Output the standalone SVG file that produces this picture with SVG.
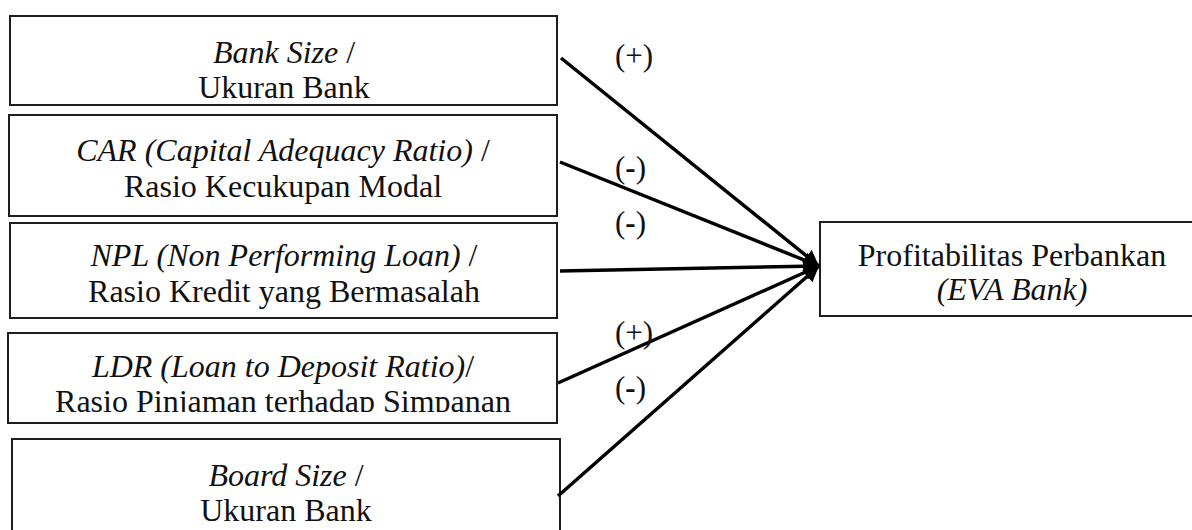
<svg xmlns="http://www.w3.org/2000/svg" width="1192" height="530" viewBox="0 0 1192 530">
<style>
  .box { fill: #fff; stroke: #1e1e1e; stroke-width: 2; }
  .t { font-family: "Liberation Serif", "Times New Roman", serif; font-size: 32px; fill: #111; text-anchor: middle; }
  .i { font-style: italic; }
  .lab { font-family: "Liberation Serif", "Times New Roman", serif; font-size: 31px; fill: #111; }
  .b { font-weight: bold; }
  .edge { stroke: #000; stroke-width: 3.5; fill: none; marker-end: url(#arr); }
</style>
<defs>
  <marker id="arr" viewBox="0 0 10 10" markerWidth="4.5" markerHeight="4.5" refX="10" refY="5" orient="auto">
    <path d="M0,0 L10,5 L0,10 z" fill="#000"/>
  </marker>
  <clipPath id="clip4"><rect x="10" y="334" width="546" height="78"/></clipPath>
</defs>
<rect width="1192" height="530" fill="#fff"/>

<g id="node-bank-size">
  <rect class="box" x="10" y="16" width="547" height="89"/>
  <text class="t" x="284" y="63"><tspan class="i">Bank Size</tspan> /</text>
  <text class="t" x="284" y="98">Ukuran Bank</text>
</g>
<g id="node-car">
  <rect class="box" x="9" y="115" width="548" height="101"/>
  <text class="t" x="283" y="161"><tspan class="i">CAR (Capital Adequacy Ratio)</tspan> /</text>
  <text class="t" x="283" y="197">Rasio Kecukupan Modal</text>
</g>
<g id="node-npl">
  <rect class="box" x="10" y="223" width="547" height="95"/>
  <text class="t" x="284" y="266"><tspan class="i">NPL (Non Performing Loan)</tspan> /</text>
  <text class="t" x="284" y="302">Rasio Kredit yang Bermasalah</text>
</g>
<g id="node-ldr">
  <rect class="box" x="8" y="333" width="549" height="90"/>
  <g clip-path="url(#clip4)">
    <text class="t" x="283" y="377"><tspan class="i">LDR (Loan to Deposit Ratio)</tspan>/</text>
    <text class="t" x="283" y="412">Rasio Pinjaman terhadap Simpanan</text>
  </g>
</g>
<g id="node-board-size">
  <rect class="box" x="12" y="439" width="548" height="120"/>
  <text class="t" x="286" y="486"><tspan class="i">Board Size</tspan> /</text>
  <text class="t" x="286" y="521">Ukuran Bank</text>
</g>
<g id="node-profitabilitas">
  <rect class="box" x="820" y="222" width="400" height="94"/>
  <text class="t" x="1012" y="266">Profitabilitas Perbankan</text>
  <text class="t i" x="1012" y="300">(EVA Bank)</text>
</g>

<g id="connectors">
  <line class="edge" x1="561" y1="58" x2="819" y2="266"/>
  <line class="edge" x1="560" y1="162" x2="819" y2="266"/>
  <line class="edge" x1="560" y1="271" x2="819" y2="266"/>
  <line class="edge" x1="558" y1="383" x2="819" y2="266"/>
  <line class="edge" x1="558" y1="496" x2="819" y2="266"/>
</g>

<g id="labels">
  <text class="lab" x="615" y="66">(+)</text>
  <text class="lab" x="615" y="178">(<tspan class="b">-</tspan>)</text>
  <text class="lab" x="615" y="233">(<tspan class="b">-</tspan>)</text>
  <text class="lab" x="615" y="343">(+)</text>
  <text class="lab" x="615" y="398">(<tspan class="b">-</tspan>)</text>
</g>
</svg>
